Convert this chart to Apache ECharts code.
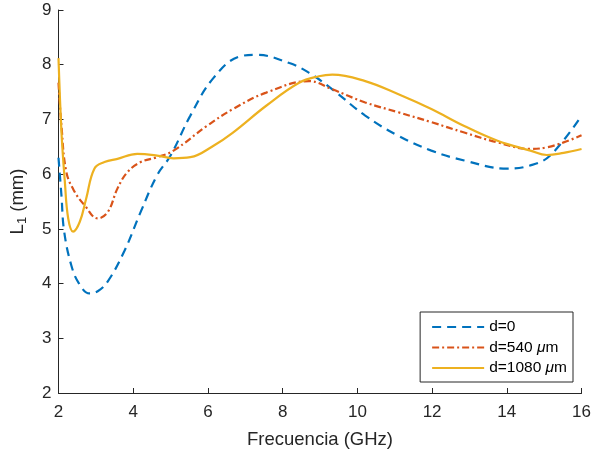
<!DOCTYPE html>
<html><head><meta charset="utf-8">
<script src="https://cdn.jsdelivr.net/npm/echarts@6/dist/echarts.min.js"></script>
<style>html,body{margin:0;padding:0;background:#fff}#c{width:594px;height:454px}</style>
</head><body><div id="c"></div>
<script>
const xTicks = [2, 4, 6, 8, 10, 12, 14, 16];
const yTicks = [2, 3, 4, 5, 6, 7, 8, 9];
const seriesNames = ['d=0', 'd=540 μm', 'd=1080 μm'];

const freq0 = [2.0, 2.08, 2.15, 2.34, 2.55, 2.83, 3.05, 3.32, 3.76, 4.2, 4.64, 5.0, 5.53, 6.15, 6.85, 7.3, 8.18, 8.71, 9.33, 10.21, 11.1, 11.98, 12.86, 14.01, 14.63, 15.16, 16.0];
const val0  = [6.3, 5.6, 4.96, 4.34, 4.0, 3.82, 3.86, 4.04, 4.59, 5.31, 5.98, 6.34, 7.07, 7.76, 8.15, 8.18, 8.03, 7.85, 7.55, 7.07, 6.70, 6.43, 6.25, 6.10, 6.16, 6.34, 7.07];

const freq1 = [2.0, 2.08, 2.21, 2.43, 2.7, 3.05, 3.32, 3.58, 3.85, 4.2, 4.64, 5.08, 5.97, 6.67, 7.56, 8.71, 9.33, 10.21, 11.1, 11.98, 12.86, 13.75, 14.63, 15.07, 15.52, 16.0];
const val1  = [7.67, 6.88, 6.04, 5.68, 5.43, 5.19, 5.31, 5.74, 6.04, 6.22, 6.31, 6.43, 6.88, 7.19, 7.49, 7.70, 7.55, 7.31, 7.13, 6.95, 6.76, 6.58, 6.46, 6.49, 6.58, 6.71];

const freq2 = [2.0, 2.08, 2.17, 2.26, 2.39, 2.57, 2.74, 2.96, 3.23, 3.58, 4.11, 4.64, 5.08, 5.53, 6.15, 6.67, 7.56, 8.44, 8.97, 9.33, 10.21, 11.1, 11.98, 12.86, 13.75, 14.63, 15.07, 15.52, 16.0];
const val2  = [8.12, 6.76, 5.86, 5.19, 4.95, 5.13, 5.55, 6.10, 6.22, 6.28, 6.37, 6.34, 6.29, 6.31, 6.52, 6.76, 7.25, 7.67, 7.79, 7.82, 7.70, 7.46, 7.19, 6.88, 6.61, 6.43, 6.35, 6.39, 6.46];

const pairs = (xs, ys) => xs.map((x, i) => [x, ys[i]]);
const axisCol = '#262626';
const font = 'Liberation Sans, Arial, sans-serif';

const chart = echarts.init(document.getElementById('c'), null, {renderer: 'canvas'});
chart.setOption({
  animation: false,
  grid: {left: 57, right: 9.5, top: 10, bottom: 59, containLabel: false},
  xAxis: {
    type: 'value', min: 2, max: 16, interval: 2,
    name: 'Frecuencia (GHz)', nameLocation: 'middle', nameGap: 37,
    nameTextStyle: {fontSize: 18.5, color: axisCol, fontFamily: font},
    axisLine: {show: true, lineStyle: {color: axisCol, width: 1}},
    axisTick: {show: true, inside: true, length: 5, lineStyle: {color: axisCol}},
    axisLabel: {fontSize: 17, color: axisCol, fontFamily: font, margin: 11},
    splitLine: {show: false}
  },
  yAxis: {
    type: 'value', min: 2, max: 9, interval: 1,
    name: 'L{sub|1} (mm)', nameLocation: 'middle', nameGap: 30, nameRotate: 90,
    nameTextStyle: {fontSize: 18.5, color: axisCol, fontFamily: font,
      rich: {sub: {fontSize: 13, verticalAlign: 'bottom', color: axisCol, fontFamily: font, padding: [9, 0, 0, 0]}}},
    axisLine: {show: true, lineStyle: {color: axisCol, width: 1}},
    axisTick: {show: true, inside: true, length: 5, lineStyle: {color: axisCol}},
    axisLabel: {fontSize: 17, color: axisCol, fontFamily: font, margin: 7},
    splitLine: {show: false}
  },
  legend: {
    orient: 'vertical', right: 21, bottom: 72,
    backgroundColor: '#fff', borderColor: axisCol, borderWidth: 1,
    padding: [7, 6, 6, 11], itemGap: 4.5, itemWidth: 52, itemHeight: 16,
    itemStyle: {opacity: 0, borderWidth: 0},
    textStyle: {fontSize: 15.5, color: '#000', fontFamily: font,
      rich: {i: {fontStyle: 'italic', fontSize: 15.5, fontFamily: font}}},
    formatter: n => n.replace('μ', '{i|μ}'),
    data: seriesNames
  },
  series: [
    {name: seriesNames[0], type: 'line', smooth: 0.4, showSymbol: false, symbol: 'none',
      data: pairs(freq0, val0), color: '#0072BD',
      lineStyle: {width: 2.2, color: '#0072BD', type: [9, 6]}},
    {name: seriesNames[1], type: 'line', smooth: 0.4, showSymbol: false, symbol: 'none',
      data: pairs(freq1, val1), color: '#D95319',
      lineStyle: {width: 2.2, color: '#D95319', type: [7, 3, 2, 3]}},
    {name: seriesNames[2], type: 'line', smooth: 0.4, showSymbol: false, symbol: 'none',
      data: pairs(freq2, val2), color: '#EDB120',
      lineStyle: {width: 2.2, color: '#EDB120', type: 'solid'}}
  ]
});
</script></body></html>
